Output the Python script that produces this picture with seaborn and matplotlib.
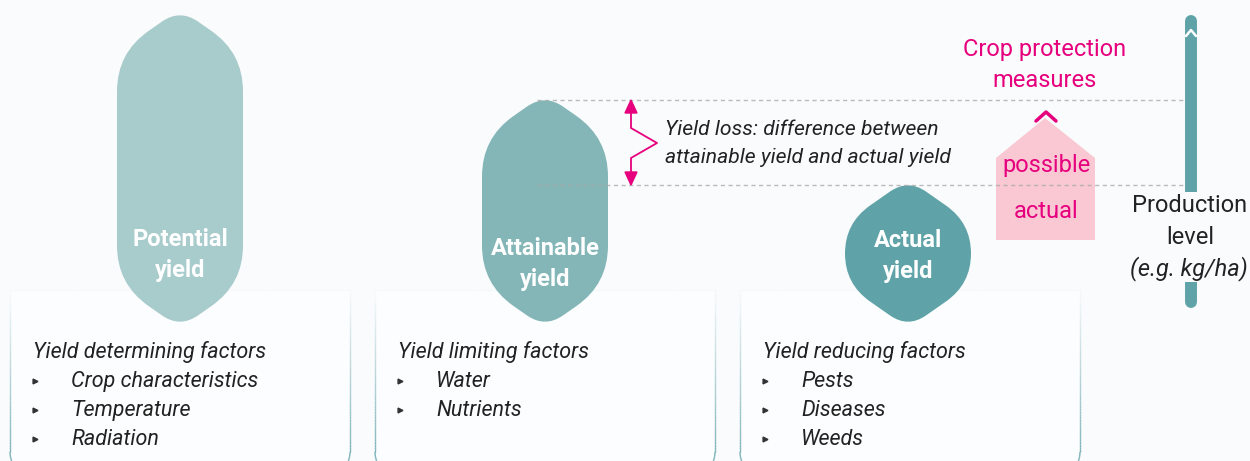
import numpy as np
import pandas as pd
import seaborn as sns
import matplotlib.pyplot as plt
from matplotlib.path import Path
from matplotlib.patches import PathPatch, Polygon, Rectangle
from matplotlib.collections import LineCollection

# stages of the yield diagram and their production level (pixels from top)
stages = ['Potential\nyield', 'Attainable\nyield', 'Actual\nyield']
stage_levels = [15, 100, 185]
stage_colors = ['#a8cbcc', '#84b6b8', '#5fa3a8']

factor_titles = ['Yield determining factors', 'Yield limiting factors', 'Yield reducing factors']
factor_items = [['Crop characteristics', 'Temperature', 'Radiation'],
                ['Water', 'Nutrients'],
                ['Pests', 'Diseases', 'Weeds']]

loss_text = ['Yield loss: difference between', 'attainable yield and actual yield']
protection_text = 'Crop protection\nmeasures'
pink_labels = ['possible', 'actual']
axis_label = ['Production', 'level', '(e.g. kg/ha)']

BG = '#fafbfc'
MAGENTA = '#e6007e'
PINK = '#f9c8d3'
DARK = '#222222'

sns.set_theme(style='white', rc={'axes.facecolor': BG, 'figure.facecolor': BG})
plt.rcParams['font.family'] = ['Roboto', 'DejaVu Sans']


def rounded_path(verts, radii):
    verts = [np.array(v, dtype=float) for v in verts]
    n = len(verts)
    pts, codes = [], []
    for i in range(n):
        p = verts[i]
        a = verts[i - 1] - p
        b = verts[(i + 1) % n] - p
        la, lb = np.linalg.norm(a), np.linalg.norm(b)
        r = min(radii[i], la / 2, lb / 2)
        p0 = p + a / la * r
        p2 = p + b / lb * r
        pts.append(p0)
        codes.append(Path.MOVETO if i == 0 else Path.LINETO)
        pts += [p, p2]
        codes += [Path.CURVE3, Path.CURVE3]
    pts.append(pts[0])
    codes.append(Path.CLOSEPOLY)
    return Path(pts, codes)


fig = plt.figure(figsize=(12.5, 4.61), dpi=100)
ax = fig.add_axes([0, 0, 1, 1])
ax.set_xlim(0, 1250)
ax.set_ylim(461, 0)
ax.axis('off')

# factor boxes with fading border
box_x = [10, 375, 740]
box_w = 340
for bx, title, items in zip(box_x, factor_titles, factor_items):
    top, bot, r = 290, 478, 26
    pts = []
    pts += [(bx + box_w, y) for y in np.linspace(top, bot - r, 60)]
    t = np.linspace(0, np.pi / 2, 20)
    pts += [(bx + box_w - r + r * np.cos(a), bot - r + r * np.sin(a)) for a in t]
    pts += [(x, bot) for x in np.linspace(bx + box_w - r, bx + r, 30)]
    pts += [(bx + r - r * np.sin(a), bot - r + r * np.cos(a)) for a in t]
    pts += [(bx, y) for y in np.linspace(bot - r, top, 60)]
    pts += [(x, top) for x in np.linspace(bx, bx + box_w, 40)]
    pts = np.array(pts)
    segs = np.stack([pts[:-1], pts[1:]], axis=1)
    ymid = segs[:, :, 1].mean(axis=1)
    alpha = np.clip((ymid - top) / 170, 0.03, 1.0)
    cols = np.zeros((len(segs), 4))
    cols[:, :3] = [0.45, 0.68, 0.70]
    cols[:, 3] = alpha
    ax.add_patch(Rectangle((bx, top), box_w, bot - top, facecolor='#fcfdfe', edgecolor='none', zorder=1))
    ax.add_collection(LineCollection(segs, colors=cols, linewidths=1.0, zorder=2))
    ax.text(bx + 23, 352, title, fontsize=15.5, style='italic', color=DARK, va='center', zorder=3)
    for k, it in enumerate(items):
        yy = 381 + 29 * k
        ax.plot(bx + 25, yy, marker='>', ms=3.5, color='#333333', zorder=3)
        ax.text(bx + 61, yy, it, fontsize=15.5, style='italic', color=DARK, va='center', zorder=3)

# yield shapes
centers = [180, 545, 908]
half_w = 63
bottom = 322
label_y = [255, 264, 256]
for cx, lvl, col, lab, ly in zip(centers, stage_levels, stage_colors, stages, label_y):
    verts = [(cx, lvl - 6), (cx + half_w, lvl + 38), (cx + half_w, bottom - 38),
             (cx, bottom + 6), (cx - half_w, bottom - 38), (cx - half_w, lvl + 38)]
    path = rounded_path(verts, [22, 40, 40, 22, 40, 40])
    ax.add_patch(PathPatch(path, facecolor=col, edgecolor='none', zorder=4))
    ax.text(cx, ly, lab, fontsize=17, fontweight='bold', color='white',
            ha='center', va='center', linespacing=1.45, zorder=5)

# dashed reference lines for attainable and actual levels
for lvl in stage_levels[1:]:
    sns.lineplot(x=[537, 1185], y=[lvl, lvl], ax=ax, color='#aaaaaa', lw=1,
                 linestyle=(0, (3, 2.5)), alpha=0.8, zorder=6)

# yield loss arrow
y_top, y_bot = stage_levels[1], stage_levels[2]
ax.plot([631, 631, 657, 631, 631], [y_top + 10, 128, 143, 158, y_bot - 10],
        color=MAGENTA, lw=1.3, zorder=7)
ax.add_patch(Polygon([(631, y_top), (625, y_top + 13), (637, y_top + 13)], color=MAGENTA, zorder=7))
ax.add_patch(Polygon([(631, y_bot), (625, y_bot - 13), (637, y_bot - 13)], color=MAGENTA, zorder=7))
for k, line in enumerate(loss_text):
    ax.text(665, 129 + 28 * k, line, fontsize=15.2, style='italic', color=DARK, va='center', zorder=7)

# crop protection: pink house shape
ax.add_patch(Polygon([(996, 240), (996, 158), (1045, 118), (1095, 158), (1095, 240)],
                     facecolor=PINK, edgecolor='none', zorder=4))
ax.plot([1036, 1046, 1056], [121, 112, 121], color=MAGENTA, lw=2.5, zorder=5)
ax.text(1046, 165, pink_labels[0], fontsize=17, color=MAGENTA, ha='center', va='center', zorder=5)
ax.text(1046, 211, pink_labels[1], fontsize=17, color=MAGENTA, ha='center', va='center', zorder=5)
ax.text(1045, 65, protection_text, fontsize=17, color=MAGENTA, ha='center', va='center',
        linespacing=1.45, zorder=5)

# production level axis bar
ax.plot([1191, 1191], [21, 302], color=stage_colors[2], lw=8.6, solid_capstyle='round', zorder=3)
ax.plot([1186, 1191, 1196], [36, 30, 36], color='white', lw=1.8, zorder=4)
ax.add_patch(Rectangle((1180, 192), 22, 90, facecolor=BG, edgecolor='none', zorder=4))
ax.text(1190, 205, axis_label[0], fontsize=17, color=DARK, ha='center', va='center', zorder=5)
ax.text(1190, 237, axis_label[1], fontsize=17, color=DARK, ha='center', va='center', zorder=5)
ax.text(1189, 269, axis_label[2], fontsize=17, style='italic', color=DARK, ha='center',
        va='center', zorder=5)

fig.savefig('out.png', dpi=100, facecolor=BG)
